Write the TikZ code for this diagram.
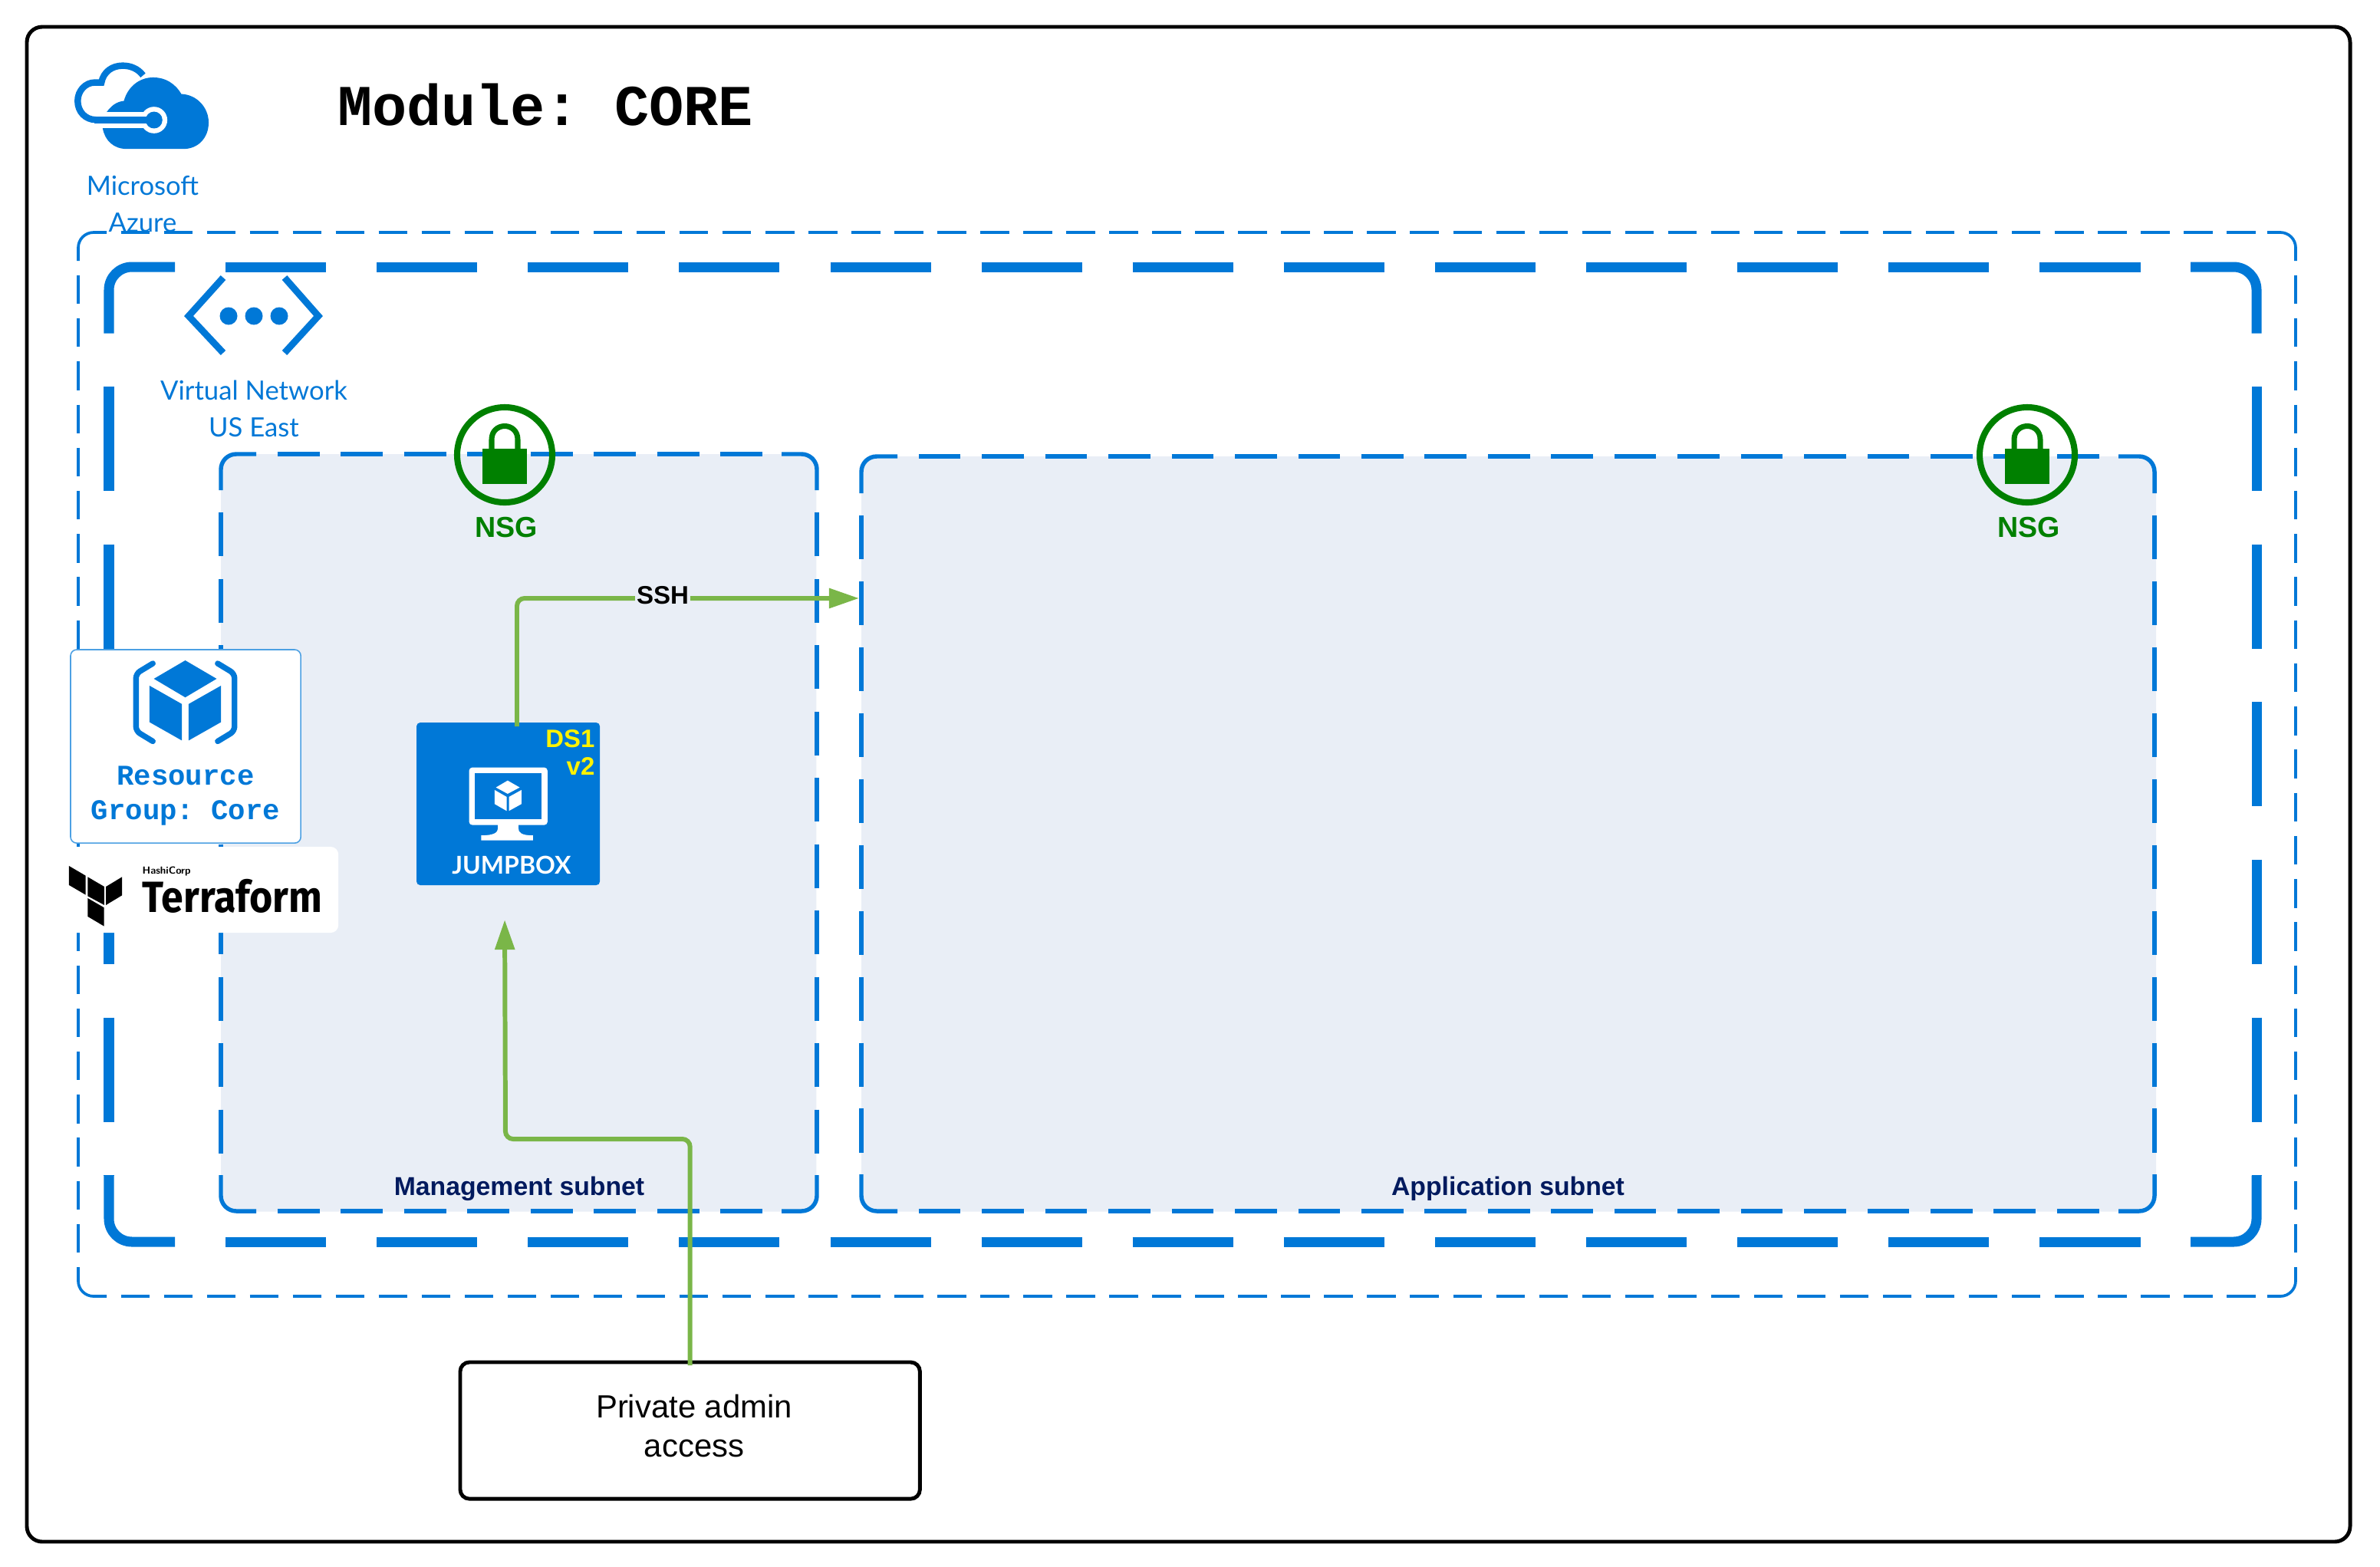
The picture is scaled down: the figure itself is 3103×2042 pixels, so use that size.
\documentclass[tikz,border=0pt]{standalone}
\usepackage{fontspec}
\usepackage{xcolor}
\setmainfont{Liberation Sans}
\setmonofont{Liberation Mono}
\newfontfamily\iconfont{Lato}
\newfontfamily\tfmfont[FakeStretch=0.91]{Fira Sans}
\usetikzlibrary{calc,positioning,arrows.meta}
\definecolor{azureblue}{HTML}{0078D7}
\definecolor{linkgreen}{HTML}{7AB648}
\definecolor{subnetgrey}{HTML}{E9EEF6}
\definecolor{subnetnavy}{HTML}{001A5E}
\definecolor{nsggreen}{HTML}{008000}
\tikzset{
    cropcoords/.style={x=.003333cm,y=-.003333cm},
    outerbox/.style={draw=black, line width=1.4pt, rounded corners=.2cm},
    thinframe/.style={draw=azureblue, line width=1.05pt, rounded corners=.2cm},
    thickframe/.style={draw=azureblue, line width=3.7pt, rounded corners=.3cm},
    subnetframe/.style={draw=azureblue, line width=1.55pt, rounded corners=.2cm},
    thinh/.style={dash pattern=on .375cm off .185cm, dash phase=.375cm},
    thinv/.style={dash pattern=on .374cm off .188cm, dash phase=.374cm},
    thickh/.style={dash pattern=on 1.31cm off .66cm, dash phase=1.31cm},
    thickv/.style={dash pattern=on 1.36cm off .695cm, dash phase=1.36cm},
    mgmth/.style={dash pattern=on .55cm off .275cm, dash phase=.55cm},
    mgmtv/.style={dash pattern=on .57cm off .294cm, dash phase=.57cm},
    apph/.style={dash pattern=on .546cm off .278cm, dash phase=.546cm},
    appv/.style={dash pattern=on .57cm off .289cm, dash phase=.57cm},
    subnetfill/.style={fill=subnetgrey, rounded corners=.2cm, inner sep=0pt, outer sep=0pt, anchor=north west},
    subnetlabel/.style={text=subnetnavy, font=\fontsize{9.6}{11}\selectfont\bfseries},
    iconlabel/.style={text=azureblue, align=center, font=\fontsize{9.85}{13.65}\selectfont\iconfont},
    nsglabel/.style={text=nsggreen, font=\fontsize{10.7}{12}\selectfont\bfseries},
    connector/.style={draw=linkgreen, line width=1.7pt, rounded corners=.1cm},
    greentip/.style={-{Triangle[length=.39cm,width=.25cm]}},
}
% side dashes are fitted between the corner pieces
\newcommand{\dashframe}[9]{%
    \draw[#1] (#2+#6,#3) -- (#2,#3) -- (#2,#3+#7);
    \draw[#1] (#4-#6,#3) -- (#4,#3) -- (#4,#3+#7);
    \draw[#1] (#2+#6,#5) -- (#2,#5) -- (#2,#5-#7);
    \draw[#1] (#4-#6,#5) -- (#4,#5) -- (#4,#5-#7);
    \draw[#1,#8] (#2+#6,#3) -- (#4-#6,#3);
    \draw[#1,#8] (#2+#6,#5) -- (#4-#6,#5);
    \draw[#1,#9] (#2,#3+#7) -- (#2,#5-#7);
    \draw[#1,#9] (#4,#3+#7) -- (#4,#5-#7);
}
\begin{document}
\begin{tikzpicture}[x=.01cm,y=-.01cm]
    \useasboundingbox (0,0) rectangle (3103,2042);
    \fill[white] (0,0) rectangle (3103,2042);
    \draw[outerbox] (35,35) rectangle (3064,2010);

    % azure cloud
    \begin{scope}[shift={(80,60)},cropcoords]
        \draw[azureblue, line width=2.4pt] (320,115) .. controls (300,88) and (270,77) .. (240,77) .. controls (200,77) and (165,100) .. (157,143) -- (130,143) .. controls (95,143) and (64,175) .. (64,215) .. controls (64,258) and (95,289) .. (135,289);
        \fill[azureblue] (162,322) .. controls (170,370) and (205,403) .. (255,403) -- (480,403) .. controls (535,403) and (577,360) .. (577,300) .. controls (577,240) and (530,190) .. (470,188) .. controls (445,145) and (405,123) .. (360,123) .. controls (305,123) and (260,160) .. (245,215) .. controls (215,218) and (195,235) .. (178,258) -- cycle;
        \fill[white] (150,258) rectangle (363,322);
        \fill[white] (363,290) circle (52);
        \fill[azureblue] (130,275) rectangle (363,303);
        \fill[azureblue] (363,290) circle (33);
    \end{scope}
    \node[iconlabel] (azurelabel) at (186,266) {Microsoft\\Azure};
    \node[font=\fontsize{21.4}{24}\selectfont\ttfamily\bfseries] (title) at (711,137) {Module: CORE};

    \dashframe{thinframe}{102}{303}{2993}{1690}{37}{37}{thinh}{thinv}
    \dashframe{thickframe}{142}{348}{2942}{1619}{86}{86.5}{thickh}{thickv}

    % vnet icon
    \draw[azureblue, line width=2.5pt] (291,362) -- (246,412) -- (291,460);
    \draw[azureblue, line width=2.5pt] (371,362) -- (415,412) -- (371,460);
    \foreach \dotx in {298,331,364}
        \fill[azureblue] (\dotx,412) circle (11.5);
    \node[iconlabel] (vnetlabel) at (331,533) {Virtual Network\\US East};

    \node[subnetfill, minimum width=7.76cm, minimum height=9.87cm] (mgmtsubnet) at (288,592) {};
    \node[subnetfill, minimum width=16.87cm, minimum height=9.84cm] (appsubnet) at (1123,595) {};
    \dashframe{subnetframe}{288}{592}{1065}{1579}{46}{47}{mgmth}{mgmtv}
    \dashframe{subnetframe}{1123}{595}{2809}{1579}{47}{48}{apph}{appv}
    \node[subnetlabel] (mgmtlabel) at (677,1550) {Management subnet};
    \node[subnetlabel] (applabel) at (1966,1550) {Application subnet};

    % network security groups
    \foreach \nsgx/\nsgname in {658/nsgmgmt,2643/nsgapp} {
        \begin{scope}[shift={(\nsgx,593)}]
            \draw[nsggreen, line width=2.3pt] (0,0) circle (62);
            \fill[nsggreen] (-29,-8) rectangle (29,38);
            \draw[nsggreen, line width=2pt] (-17,-8) -- (-17,-20) .. controls (-17,-31) and (-9,-37.5) .. (0,-37.5) .. controls (9,-37.5) and (17,-31) .. (17,-20) -- (17,-8);
            \node[nsglabel] (\nsgname) at (2,95) {NSG};
        \end{scope}
    }

    % resource group
    \node[fill=white, draw=azureblue!70, line width=.45pt, rounded corners=.08cm, anchor=north west, inner sep=0pt, outer sep=0pt, minimum width=3.0cm, minimum height=2.52cm] (rgbox) at (92,847) {};
    \begin{scope}[shift={(160,850)},cropcoords]
        \fill[azureblue] (245,33) -- (368,105) -- (245,178) -- (122,105) -- cycle;
        \fill[azureblue] (105,132) -- (232,204) -- (232,347) -- (105,275) -- cycle;
        \fill[azureblue] (385,132) -- (258,204) -- (258,347) -- (385,275) -- cycle;
        \draw[azureblue, line width=2.1pt, line cap=round, rounded corners=.06cm] (118,45) -- (52,85) -- (52,310) -- (118,350);
        \draw[azureblue, line width=2.1pt, line cap=round, rounded corners=.06cm] (372,45) -- (438,85) -- (438,310) -- (372,350);
    \end{scope}
    \node[text=azureblue, align=center, font=\fontsize{10.6}{12.8}\selectfont\ttfamily\bfseries] (rglabel) at (242,1038) {Resource\\Group: Core};

    % terraform logo
    \node[fill=white, rounded corners=.1cm, anchor=north west, inner sep=0pt, outer sep=0pt, minimum width=3.53cm, minimum height=1.12cm] (tfmbox) at (88,1104) {};
    \begin{scope}[shift={(80,1110)},cropcoords]
        \fill[black] (30,57) -- (95,95) -- (95,170) -- (30,132) -- cycle;
        \fill[black] (103,100) -- (168,138) -- (168,210) -- (103,175) -- cycle;
        \fill[black] (175,138) -- (238,100) -- (238,172) -- (175,210) -- cycle;
        \fill[black] (103,183) -- (167,220) -- (167,293) -- (103,255) -- cycle;
    \end{scope}
    \node[anchor=base west, inner sep=0pt, font=\fontsize{3.8}{5}\selectfont\sffamily\bfseries] (hashilabel) at (185,1139) {HashiCorp};
    \node[anchor=base west, inner sep=0pt, font=\fontsize{16.2}{18}\selectfont\tfmfont\bfseries] (tfmlabel) at (185,1189) {Terraform};

    % jumpbox
    \node[fill=azureblue, rounded corners=.05cm, anchor=north west, inner sep=0pt, outer sep=0pt, minimum width=2.39cm, minimum height=2.12cm] (jumpbox) at (543,942) {};
    \begin{scope}[shift={(590,990)},cropcoords]
        \fill[white, rounded corners=.04cm] (65,32) rectangle (372,257);
        \fill[azureblue] (88,55) rectangle (350,233);
        \fill[white] (178,250) -- (178,270) .. controls (178,288) and (160,298) .. (112,298) -- (112,317) -- (315,317) -- (315,298) .. controls (272,298) and (258,288) .. (258,270) -- (258,250) -- cycle;
        \fill[white] (216,83) -- (263,110) -- (216,135) -- (170,110) -- cycle;
        \fill[white] (165,120) -- (212,147) -- (212,202) -- (165,175) -- cycle;
        \fill[white] (221,147) -- (270,120) -- (270,175) -- (221,202) -- cycle;
    \end{scope}
    \node[text=white, font=\fontsize{9.1}{12}\selectfont\iconfont\bfseries] (jumplabel) at (667,1128) {JUMPBOX};
    \node[text=yellow, anchor=east, align=right, inner sep=0pt, font=\fontsize{9.35}{10}\selectfont\bfseries] (sizelabel) at (776,981) {DS1\\v2};

    % private access
    \node[draw=black, line width=1.4pt, fill=white, rounded corners=.12cm, anchor=north west, inner sep=0pt, outer sep=0pt, minimum width=5.99cm, minimum height=1.78cm] (admin) at (600,1776) {};
    \node[align=center, font=\fontsize{11.9}{14.5}\selectfont] (adminlabel) at (905,1859) {Private admin\\access};

    % connectors
    \coordinate (sshstart) at ($(jumpbox.north west)+(131,5)$);
    \coordinate (sshend) at ($(appsubnet.north west)+(-3,185)$);
    \coordinate (jumpentry) at ($(jumpbox.south)+(-4.5,45)$);
    \coordinate (adminbend) at (659,1485);
    \draw[connector, greentip] (sshstart) |- (sshend);
    \draw[connector, greentip, shorten <=-.04cm] (admin.north) |- (adminbend) -- (jumpentry);
    \node[fill=subnetgrey, inner xsep=.6pt, inner ysep=0pt, font=\fontsize{9.4}{11}\selectfont\bfseries] (sshlabel) at (864,776) {SSH};
\end{tikzpicture}
\end{document}
